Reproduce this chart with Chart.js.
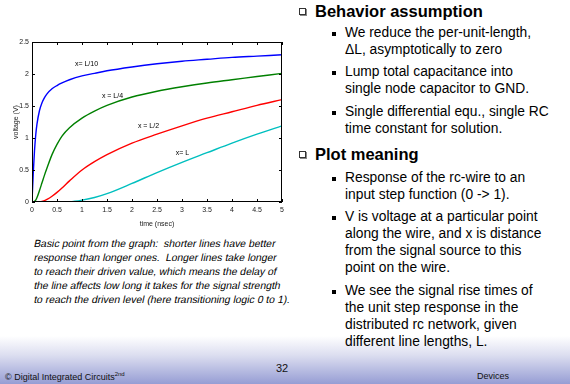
<!DOCTYPE html>
<html>
<head>
<meta charset="utf-8">
<script src="https://cdn.jsdelivr.net/npm/chart.js@4/dist/chart.umd.min.js"></script>
<style>
  html,body{margin:0;padding:0;}
  body{width:570px;height:384px;position:relative;overflow:hidden;background:#fff;font-family:"Liberation Sans",Arial,sans-serif;color:#000;}
  #foot{position:absolute;left:0;top:336px;width:570px;height:48px;background:linear-gradient(to bottom,#ffffff 0%,#dcdef0 40%,#969dd4 100%);}
  #wrap{position:absolute;left:0;top:0;width:290px;height:228px;}
  .t{position:absolute;white-space:nowrap;}
  .h{font-weight:bold;font-size:16.5px;left:315px;}
  .s{font-size:13.8px;left:345px;}
  .sq{position:absolute;left:299px;width:5px;height:5px;border:1px solid #333;box-shadow:1px 1px 0 #888;}
  .dot{position:absolute;left:332px;width:4px;height:4px;background:#000;}
  .it{font-size:10.4px;left:33px;transform:skewX(-12deg);transform-origin:0 100%;}
</style>
</head>
<body>
<div id="foot"></div>
<div id="wrap"><canvas id="myChart" width="290" height="228"></canvas></div>

<div class="sq" style="top:8px"></div><div class="t h" style="top:2px">Behavior assumption</div>
<div class="dot" style="top:32px"></div><div class="t s" style="top:25px">We reduce the per-unit-length,</div>
<div class="t s" style="top:42px">&Delta;L, asymptotically to zero</div>
<div class="dot" style="top:71px"></div><div class="t s" style="top:64px">Lump total capacitance into</div>
<div class="t s" style="top:81px">single node capacitor to GND.</div>
<div class="dot" style="top:111px"></div><div class="t s" style="top:104px">Single differential equ., single RC</div>
<div class="t s" style="top:121px">time constant for solution.</div>
<div class="sq" style="top:151px"></div><div class="t h" style="top:145px">Plot meaning</div>
<div class="dot" style="top:177px"></div><div class="t s" style="top:170px">Response of the rc-wire to an</div>
<div class="t s" style="top:187px">input step function (0 -&gt; 1).</div>
<div class="dot" style="top:216px"></div><div class="t s" style="top:209px">V is voltage at a particular point</div>
<div class="t s" style="top:226px">along the wire, and x is distance</div>
<div class="t s" style="top:243px">from the signal source to this</div>
<div class="t s" style="top:260px">point on the wire.</div>
<div class="dot" style="top:290px"></div><div class="t s" style="top:283px">We see the signal rise times of</div>
<div class="t s" style="top:300px">the unit step response in the</div>
<div class="t s" style="top:317px">distributed rc network, given</div>
<div class="t s" style="top:334px">different line lengths, L.</div>

<div class="t it" style="top:238px">Basic point from the graph:&nbsp; shorter lines have better</div>
<div class="t it" style="top:252px">response than longer ones.&nbsp; Longer lines take longer</div>
<div class="t it" style="top:266px">to reach their driven value, which means the delay of</div>
<div class="t it" style="top:280px">the line affects low long it takes for the signal strength</div>
<div class="t it" style="top:294px">to reach the driven level (here transitioning logic 0 to 1).</div>

<div class="t" style="left:5px;top:371px;font-size:9px;color:#111">&copy; Digital Integrated Circuits<sup style="font-size:6px">2nd</sup></div>
<div class="t" style="left:276px;top:362px;font-size:11px;color:#111">32</div>
<div class="t" style="left:477px;top:371px;font-size:9px;color:#111">Devices</div>

<script>
// time axis (nsec) and voltages at four positions along the wire
const timeNs=[0,0.025,0.05,0.075,0.1,0.15,0.2,0.25,0.3,0.4,0.5,0.6,0.75,1,1.25,1.5,2,2.5,3,3.5,4,4.5,5];
const vL10=[0,0.45,0.8,1.05,1.22,1.43,1.55,1.63,1.69,1.77,1.82,1.86,1.91,1.97,2.01,2.05,2.11,2.16,2.2,2.23,2.26,2.28,2.3];
const vL4=[0,0,0.01,0.03,0.07,0.18,0.3,0.42,0.53,0.74,0.9,1.03,1.16,1.31,1.42,1.51,1.64,1.73,1.8,1.86,1.91,1.96,2.01];
const vL2=[0,0,0,0,0,0,0.01,0.02,0.04,0.09,0.15,0.22,0.33,0.5,0.63,0.74,0.92,1.06,1.19,1.31,1.41,1.51,1.6];
const vL=[0,0,0,0,0,0,0,0,0,0,0,0,0.003,0.03,0.07,0.13,0.29,0.46,0.62,0.77,0.92,1.06,1.19];

const curveNames=["x= L/10","x = L/4","x = L/2","x= L"];
const labelX=[1.09,1.61,2.33,3.01];
const labelY=[2.15,1.65,1.18,0.77];
const lineColors=["#0000ff","#008000","#ff0000","#00bfbf"];

const xTicks=[0,0.5,1,1.5,2,2.5,3,3.5,4,4.5,5];
const yTicks=[0,0.5,1,1.5,2,2.5];

function pts(v){ return timeNs.map((t,i)=>({x:t,y:v[i]})); }
const series=[vL10,vL4,vL2,vL];

const framePlugin={
  id:"frame",
  afterDatasetsDraw(chart){
    const c=chart.ctx, a=chart.chartArea, sx=chart.scales.x, sy=chart.scales.y;
    c.save();
    c.strokeStyle="#000";c.lineWidth=1;
    c.strokeRect(a.left+0.5,a.top+0.5,a.right-a.left-1,a.bottom-a.top-1);
    // inward ticks like matlab
    c.beginPath();
    for(const t of xTicks){
      const px=Math.round(sx.getPixelForValue(t))+0.5;
      c.moveTo(px,a.bottom);c.lineTo(px,a.bottom-3);
      c.moveTo(px,a.top);c.lineTo(px,a.top+3);
    }
    for(const t of yTicks){
      const py=Math.round(sy.getPixelForValue(t))+0.5;
      c.moveTo(a.left,py);c.lineTo(a.left+3,py);
      c.moveTo(a.right,py);c.lineTo(a.right-3,py);
    }
    c.stroke();
    // curve labels
    c.fillStyle="#000";c.font="7px 'Liberation Sans', Arial";
    c.textAlign="center";c.textBaseline="middle";
    for(let i=0;i<curveNames.length;i++){
      c.fillText(curveNames[i],sx.getPixelForValue(labelX[i]),sy.getPixelForValue(labelY[i]));
    }
    c.restore();
  }
};

const tickFont={size:7,family:"'Liberation Sans', Arial"};

new Chart("myChart",{
  type:"line",
  data:{
    datasets:series.map((v,i)=>({
      data:pts(v),
      borderColor:lineColors[i],
      borderWidth:1.4,
      pointRadius:0,
      fill:false,
      cubicInterpolationMode:"monotone"
    }))
  },
  options:{
    responsive:false,
    animation:false,
    layout:{padding:{left:0,right:8,top:42,bottom:0}},
    plugins:{legend:{display:false},tooltip:{enabled:false}},
    scales:{
      x:{
        type:"linear",min:0,max:5,
        afterFit(s){s.height=26;},
        afterBuildTicks(s){s.ticks=xTicks.map(v=>({value:v}));},
        grid:{display:false,drawTicks:false},
        border:{display:false},
        ticks:{font:tickFont,color:"#222",padding:4,maxRotation:0,autoSkip:false,callback:v=>String(v)},
        title:{display:true,text:"time (nsec)",font:tickFont,color:"#222",padding:{top:2,bottom:0}}
      },
      y:{
        min:0,max:2.5,
        afterFit(s){s.width=32;},
        afterBuildTicks(s){s.ticks=yTicks.map(v=>({value:v}));},
        grid:{display:false,drawTicks:false},
        border:{display:false},
        ticks:{font:tickFont,color:"#222",padding:3,callback:v=>String(v)},
        title:{display:true,text:"voltage (V)",font:tickFont,color:"#222",padding:{top:12,bottom:0}}
      }
    }
  },
  plugins:[framePlugin]
});
</script>
</body>
</html>
